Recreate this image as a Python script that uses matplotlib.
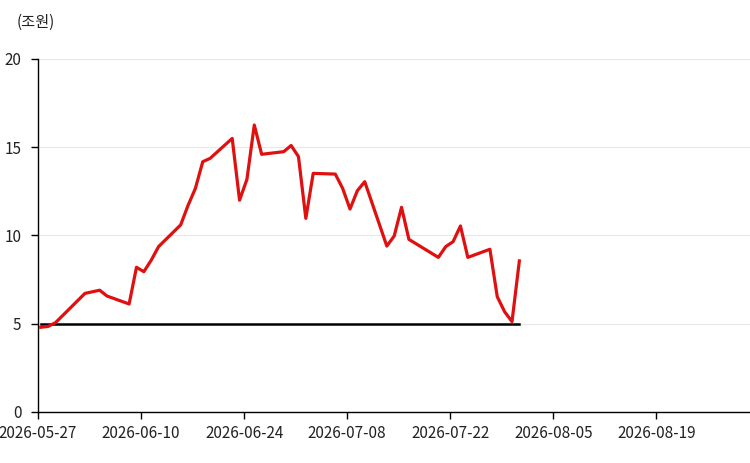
import matplotlib
matplotlib.use('Agg')
import matplotlib.pyplot as plt
import matplotlib.dates as mdates
import numpy as np
import pandas as pd

plt.rcParams['font.family'] = ['Noto Sans CJK KR', 'DejaVu Sans']

# Data (daily values, stamped 09:00)
dates = ['2026-05-27', '2026-05-28', '2026-05-29', '2026-06-02', '2026-06-04',
         '2026-06-05', '2026-06-08', '2026-06-09', '2026-06-10', '2026-06-11',
         '2026-06-12', '2026-06-15', '2026-06-16', '2026-06-17', '2026-06-18',
         '2026-06-19', '2026-06-22', '2026-06-23', '2026-06-24', '2026-06-25',
         '2026-06-26', '2026-06-29', '2026-06-30', '2026-07-01', '2026-07-02',
         '2026-07-03', '2026-07-06', '2026-07-07', '2026-07-08', '2026-07-09',
         '2026-07-10', '2026-07-13', '2026-07-14', '2026-07-15', '2026-07-16',
         '2026-07-20', '2026-07-21', '2026-07-22', '2026-07-23', '2026-07-24',
         '2026-07-27', '2026-07-28', '2026-07-29', '2026-07-30', '2026-07-31']
values = [4.80, 4.85, 5.06, 6.72, 6.90,
          6.57, 6.12, 8.20, 7.95, 8.60,
          9.37, 10.60, 11.70, 12.67, 14.18,
          14.37, 15.50, 12.00, 13.18, 16.26,
          14.60, 14.75, 15.10, 14.47, 10.97,
          13.52, 13.48, 12.67, 11.50, 12.54,
          13.05, 9.40, 9.97, 11.60, 9.78,
          8.76, 9.37, 9.65, 10.54, 8.76,
          9.22, 6.53, 5.68, 5.12, 8.56]
baseline = 5

x = pd.to_datetime(dates) + pd.Timedelta(hours=9)

fig = plt.figure(figsize=(7.5, 4.63), dpi=100)
ax = fig.add_axes([38 / 750, 1 - 412 / 463, 1 - 38 / 750, (412 - 59) / 463])

ax.plot(x, values, color='#e01010', linewidth=2.3, zorder=3)
ax.plot([x[0], x[-1]], [baseline, baseline], color='black', linewidth=1.8, zorder=2)

ax.set_ylim(0, 20)
ax.set_yticks([0, 5, 10, 15, 20])
start = pd.Timestamp('2026-05-27')
ax.set_xlim(start, start + pd.Timedelta(days=96.7))
ax.set_xticks(pd.date_range('2026-05-27', periods=7, freq='14D'))
ax.xaxis.set_major_formatter(mdates.DateFormatter('%Y-%m-%d'))

ax.grid(axis='y', color='#e8e8e8', linewidth=0.8)
ax.set_axisbelow(True)
for side in ['top', 'right']:
    ax.spines[side].set_visible(False)
for side in ['left', 'bottom']:
    ax.spines[side].set_color('black')
    ax.spines[side].set_linewidth(1.0)

ax.tick_params(axis='both', labelsize=11, color='black', length=5, width=1,
               labelcolor='#222222')
ax.tick_params(axis='x', pad=4)
ax.tick_params(axis='y', pad=7)

fig.text(17 / 750, 1 - 22 / 463, '(조원)', fontsize=11, color='#222222',
         va='center', ha='left')

fig.savefig('out.png', dpi=100)
